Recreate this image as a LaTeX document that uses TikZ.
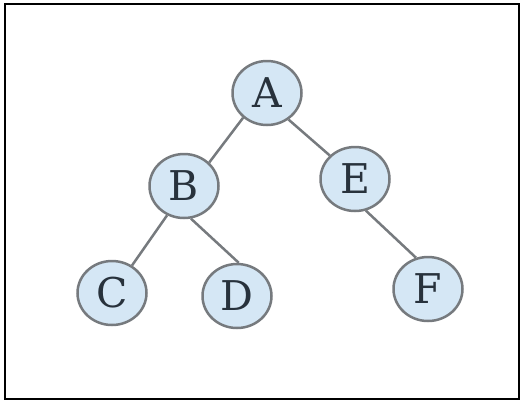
\documentclass[tikz,border=0pt]{standalone}
\usepackage{fontspec}
\setmainfont{DejaVu Serif}
\usetikzlibrary{shapes.geometric}
\definecolor{nodefill}{RGB}{213,231,245}
\definecolor{nodeedge}{RGB}{118,122,126}
\definecolor{textcol}{RGB}{40,50,60}
\tikzset{
  treenode/.style={ellipse, draw=nodeedge, fill=nodefill, line width=2.5pt,
    minimum width=69pt, minimum height=64pt, inner sep=0pt,
    font=\fontsize{41}{43}\selectfont, text=textcol},
  edge/.style={draw=nodeedge, line width=2.5pt}
}
\begin{document}
\begin{tikzpicture}[x=1pt,y=-1pt]
\useasboundingbox (0,0) rectangle (521,402);
\draw[line width=2.5pt] (5,4) rectangle (519,399);
\node[treenode] (A) at (267,93) {A};
\node[treenode] (B) at (184,186) {B};
\node[treenode] (E) at (355,179) {E};
\node[treenode] (C) at (112,293) {C};
\node[treenode] (D) at (237,296) {D};
\node[treenode] (F) at (428,289) {F};
\draw[edge] (A.-134) -- (B.43);
\draw[edge] (A.-51) -- (E.137);
\draw[edge] (B.-120) -- (C.54);
\draw[edge] (B.-78) -- (D.87);
\draw[edge] (E.-71) -- (F.111);
\end{tikzpicture}
\end{document}
